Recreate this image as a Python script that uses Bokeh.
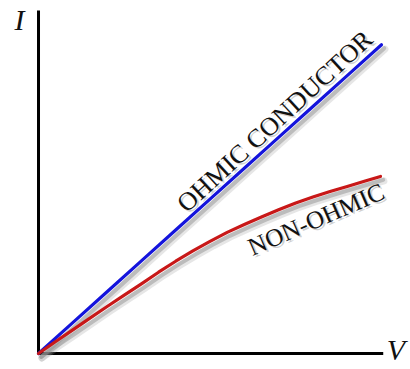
from bokeh.plotting import figure
from bokeh.models import ColumnDataSource, Range1d, Label
from bokeh.transform import dodge
from bokeh.embed import file_html
from bokeh.resources import INLINE

# ---- data ----
ohmic_V = [0, 1, 2, 3, 4, 5, 6, 7, 8, 9, 10]
ohmic_I = [0, 0.9, 1.8, 2.7, 3.6, 4.5, 5.4, 6.3, 7.2, 8.1, 9.0]
nonohmic_V = [0, 0.5, 1, 1.5, 2, 2.5, 3, 3.5, 4, 4.5, 5, 5.5, 6, 6.5, 7, 7.5,
              8, 8.5, 9, 9.5, 9.97]
nonohmic_I = [0, 0.35, 0.69, 1.03, 1.37, 1.70, 2.03, 2.37, 2.69, 2.99, 3.27,
              3.53, 3.76, 3.98, 4.19, 4.39, 4.56, 4.72, 4.87, 5.02, 5.16]
x_axis_V = [0, 10.05]
x_axis_I = [0, 0]
y_axis_V = [0, 0]
y_axis_I = [0, 10.0]
ohmic_label = "OHMIC CONDUCTOR"
nonohmic_label = "NON-OHMIC"
v_label = "V"
i_label = "I"

p = figure(width=410, height=369, output_backend="svg", toolbar_location=None,
           x_range=Range1d(-1.108, 10.845), y_range=Range1d(-0.466, 10.29),
           x_axis_type=None, y_axis_type=None,
           min_border=0, min_border_left=0, min_border_right=0,
           min_border_top=0, min_border_bottom=0)
p.outline_line_color = None
p.grid.visible = False
p.background_fill_color = "white"
p.border_fill_color = "white"

src_o = ColumnDataSource(dict(V=ohmic_V, I=ohmic_I))
src_n = ColumnDataSource(dict(V=nonohmic_V, I=nonohmic_I))

# axes
p.line(x_axis_V, x_axis_I, line_color="black", line_width=3)
p.line(y_axis_V, y_axis_I, line_color="black", line_width=3)

# soft shadows under the curves
for src in (src_o, src_n):
    p.line(x=dodge("V", 0.1, range=p.x_range), y=dodge("I", -0.13, range=p.y_range),
           source=src, line_color="#9a9a9a", line_width=7, line_alpha=0.25,
           line_cap="round", line_join="round")
    p.line(x=dodge("V", 0.08, range=p.x_range), y=dodge("I", -0.1, range=p.y_range),
           source=src, line_color="#8a8a8a", line_width=4, line_alpha=0.45,
           line_cap="round", line_join="round")

p.line("V", "I", source=src_o, line_color="#1414dc", line_width=3.2,
       line_cap="round", line_join="round")
p.line("V", "I", source=src_n, line_color="#c81818", line_width=3.2,
       line_cap="round", line_join="round")

serif = "Liberation Serif"
# text shadows
p.add_layout(Label(x=4.50, y=3.90, text=ohmic_label, angle=42.5, angle_units="deg",
                   text_font=serif, text_font_size="26px", text_color="#b0b0b0", text_alpha=0.6))
p.add_layout(Label(x=6.36, y=2.66, text=nonohmic_label, angle=23.5, angle_units="deg",
                   text_font=serif, text_font_size="25px", text_color="#b0b0b0", text_alpha=0.6))
# texts
p.add_layout(Label(x=4.44, y=3.95, text=ohmic_label, angle=42.5, angle_units="deg",
                   text_font=serif, text_font_size="26px", text_color="#111111"))
p.add_layout(Label(x=6.30, y=2.71, text=nonohmic_label, angle=23.5, angle_units="deg",
                   text_font=serif, text_font_size="25px", text_color="#111111"))
p.add_layout(Label(x=-0.70, y=9.25, text=i_label, text_font=serif, text_font_style="italic",
                   text_font_size="30px", text_color="#111111"))
p.add_layout(Label(x=10.15, y=-0.36, text=v_label, text_font=serif, text_font_style="italic",
                   text_font_size="30px", text_color="#111111"))

open("out.html", "w").write(file_html(p, INLINE))
